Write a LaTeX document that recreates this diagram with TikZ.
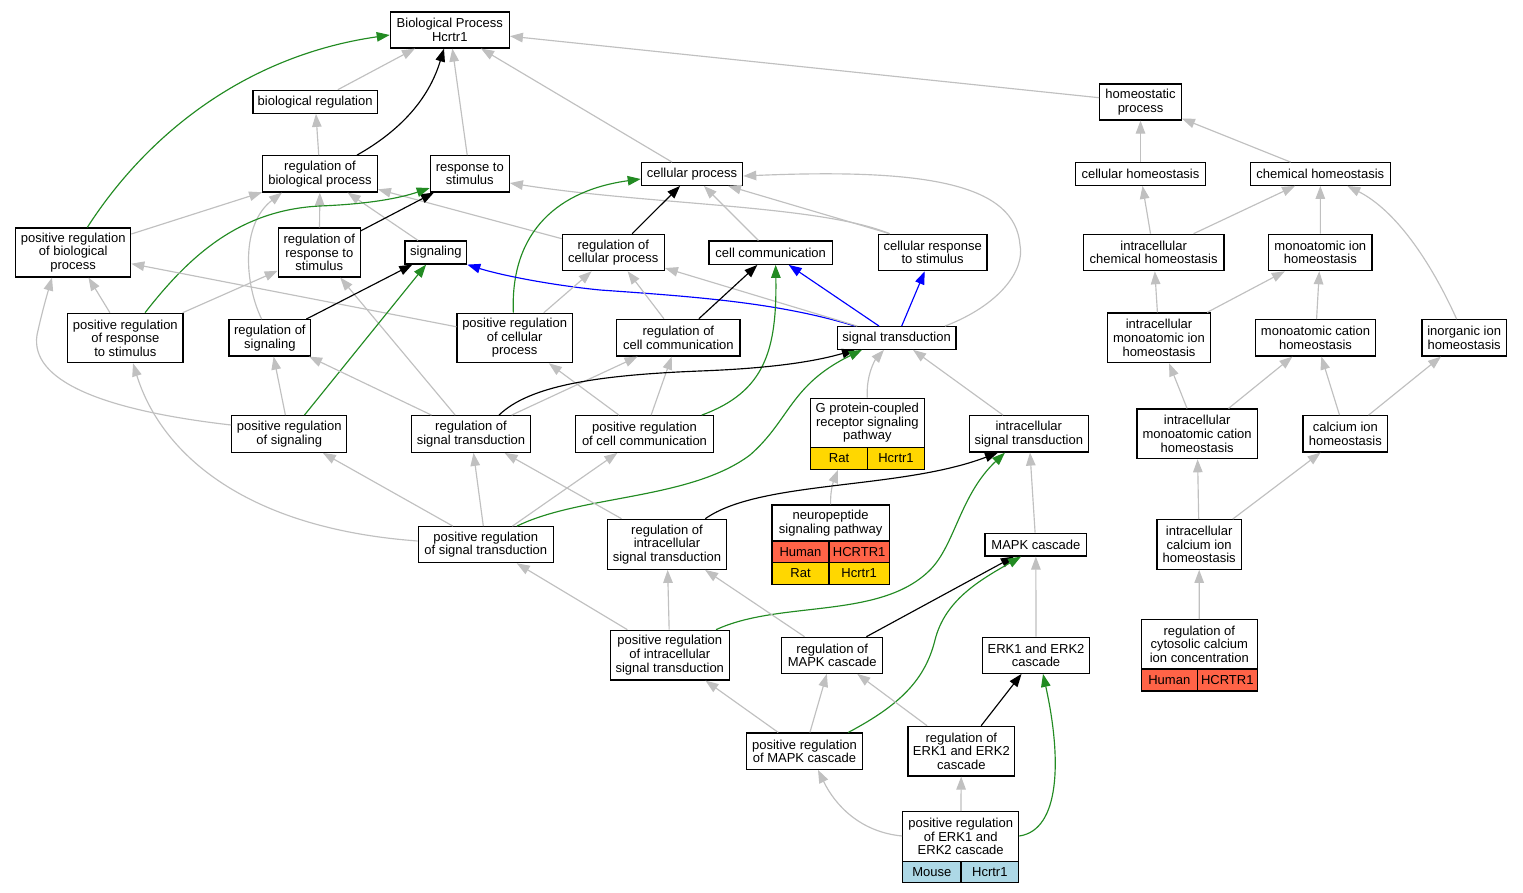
\documentclass[tikz,border=0pt]{standalone}
\usepackage{fontspec}
\setmainfont{Liberation Sans}
\usetikzlibrary{arrows.meta}
\definecolor{eg}{HTML}{C0C0C0}
\definecolor{eG}{HTML}{228B22}
\definecolor{eB}{HTML}{0000FF}
\definecolor{cHum}{HTML}{FF6347}
\definecolor{cRat}{HTML}{FFD700}
\definecolor{cMou}{HTML}{ADD8E6}
\newcommand\bx[6]{\node[box,minimum width={(#4)-(#2)},minimum height={(#5)-(#3)}] (#1) at ({((#2)+(#4))/2},{((#3)+(#5))/2}) {#6};}
\newcommand\cl[7]{\node[box,fill=#6,minimum width={(#4)-(#2)},minimum height={(#5)-(#3)}] (#1) at ({((#2)+(#4))/2},{((#3)+(#5))/2}) {#7};}
\newcommand\tx[4]{\node[lbl] (#1) at (#2,#3) {#4};}
\begin{document}
\begin{tikzpicture}[x=1pt,y=-1pt,
  box/.style={draw=black, line width=1.2pt, inner sep=0pt, align=center, font=\fontsize{13}{13.6}\selectfont},
  lbl/.style={inner sep=0pt, align=center, font=\fontsize{13}{13.6}\selectfont},
  edge/.style={line width=1.15pt, -{Triangle[length=13pt,width=9.5pt]}},
  gr/.style={edge, eg},
  bk/.style={edge, black},
  gn/.style={edge, eG},
  bl/.style={edge, eB}]
\fill[white] (0,0) rectangle (1523,893);
\useasboundingbox (0,0) rectangle (1523,893);
% nodes
\bx{bp}{390.3}{12}{509.3}{48}{Biological Process\\Hcrtr1}
\bx{breg}{253}{90.3}{377.3}{113.3}{biological regulation}
\bx{rbp}{262.7}{155.7}{377.3}{192}{regulation of\\biological process}
\bx{rts}{430.3}{155.7}{509.3}{192}{response to\\stimulus}
\bx{prbp}{15.7}{228}{130.7}{277}{positive regulation\\of biological\\process}
\bx{rrs}{278.3}{228}{360.3}{277}{regulation of\\response to\\stimulus}
\bx{sig}{405}{241}{466.7}{264}{signaling}
\bx{cp}{641.3}{162.7}{742.7}{185.3}{cellular process}
\bx{rcp}{562.3}{234.3}{664.3}{270.7}{regulation of\\cellular process}
\bx{cc}{709}{241}{832.3}{264.3}{cell communication}
\bx{crs}{878.3}{234.3}{987}{270.7}{cellular response\\to stimulus}
\bx{hp}{1099.7}{84}{1181.3}{120}{homeostatic\\process}
\bx{chom}{1075.7}{162.7}{1205.3}{185.3}{cellular homeostasis}
\bx{chem}{1250.3}{162.7}{1390.3}{185.3}{chemical homeostasis}
\bx{ich}{1083.3}{234.3}{1224}{270.7}{intracellular\\chemical homeostasis}
\bx{mih}{1268.7}{234.3}{1372}{270.7}{monoatomic ion\\homeostasis}
\bx{imih}{1107.3}{313}{1210.7}{362.7}{intracellular\\monoatomic ion\\homeostasis}
\bx{mch}{1255.3}{319.7}{1375.7}{356}{monoatomic cation\\homeostasis}
\bx{iih}{1422}{319.7}{1506.3}{356}{inorganic ion\\homeostasis}
\bx{prrs}{67.7}{313.3}{183}{362.7}{positive regulation\\of response\\to stimulus}
\bx{rsig}{229}{319.7}{310.7}{356}{regulation of\\signaling}
\bx{prcp}{457}{313.3}{572.3}{362.7}{positive regulation\\of cellular\\process}
\bx{rcc}{616.7}{319.3}{740}{356}{regulation of\\cell communication}
\bx{st}{837.3}{326.7}{956}{349.3}{signal transduction}
\bx{prs}{231.7}{415.7}{346.7}{452.3}{positive regulation\\of signaling}
\bx{rst}{411.7}{415.7}{530.3}{452.3}{regulation of\\signal transduction}
\bx{prcc}{575.7}{415.7}{713.3}{452.3}{positive regulation\\of cell communication}
\bx{gpcr}{810.3}{398.3}{924.3}{469.3}{}
\tx{gpcrT}{867.3}{423}{G protein-coupled\\receptor signaling\\pathway}
\cl{gpcrA}{810.3}{447.7}{867.7}{469.3}{cRat}{Rat}
\cl{gpcrB}{867.7}{447.7}{924.3}{469.3}{cRat}{Hcrtr1}
\bx{ist}{969.3}{415.7}{1088.3}{452}{intracellular\\signal transduction}
\bx{imch}{1137}{409}{1257.3}{458.7}{intracellular\\monoatomic cation\\homeostasis}
\bx{cih}{1303}{415.7}{1387.7}{452}{calcium ion\\homeostasis}
\bx{prst}{418.3}{526.7}{553.3}{562.7}{positive regulation\\of signal transduction}
\bx{ri}{607.3}{519.3}{726.7}{569.3}{regulation of\\intracellular\\signal transduction}
\bx{np}{772}{505}{889.3}{584.3}{}
\tx{npT}{830.65}{523}{neuropeptide\\signaling pathway}
\cl{npA}{772}{541}{829}{562.7}{cHum}{Human}
\cl{npB}{829}{541}{889.3}{562.7}{cHum}{HCRTR1}
\cl{npC}{772}{562.7}{829}{584.3}{cRat}{Rat}
\cl{npD}{829}{562.7}{889.3}{584.3}{cRat}{Hcrtr1}
\bx{mapk}{985}{533.3}{1086.7}{556}{MAPK cascade}
\bx{icah}{1157}{519.7}{1241.3}{569.3}{intracellular\\calcium ion\\homeostasis}
\bx{pri}{610.3}{630.3}{729.3}{680}{positive regulation\\of intracellular\\signal transduction}
\bx{rmapk}{781.7}{637.3}{882.7}{673.3}{regulation of\\MAPK cascade}
\bx{erk}{982.7}{637.3}{1089.3}{673.3}{ERK1 and ERK2\\cascade}
\bx{rcyt}{1141.3}{619.7}{1257.3}{691}{}
\tx{rcytT}{1199.3}{644.3}{regulation of\\cytosolic calcium\\ion concentration}
\cl{rcytA}{1141.3}{669}{1197.3}{691}{cHum}{Human}
\cl{rcytB}{1197.3}{669}{1257.3}{691}{cHum}{HCRTR1}
\bx{prm}{746.3}{733}{862.7}{769.3}{positive regulation\\of MAPK cascade}
\bx{rerk}{908}{726.3}{1014.7}{776}{regulation of\\ERK1 and ERK2\\cascade}
\bx{prerk}{902.7}{811.7}{1018.7}{882.7}{}
\tx{prerkT}{960.7}{836.7}{positive regulation\\of ERK1 and\\ERK2 cascade}
\cl{prerkA}{902.7}{861.7}{961}{882.7}{cMou}{Mouse}
\cl{prerkB}{961}{861.7}{1018.7}{882.7}{cMou}{Hcrtr1}
% edges: top region
\draw[gr] (breg) -- (bp);
\draw[gr] (rts) -- (bp);
\draw[gr] (cp) -- (bp);
\draw[gr] (hp) -- (bp);
\draw[bk] ([xshift=37pt]rbp.north) .. controls (405,128) and (430,95) .. ([xshift=-5.8pt]bp.south);
\draw[gn] ([xshift=14.1pt]prbp.north) .. controls (150,130) and (250,55) .. ([yshift=-5pt]bp.west);
\draw[gr] (rbp) -- (breg);
\draw[gr] (prbp) -- (rbp);
\draw[gr] (rrs) -- (rbp);
\draw[gr] (sig) -- (rbp);
\draw[gr] (rcp) -- (rbp);
\draw[gr] ([xshift=-8.2pt]rsig.north) .. controls (245,285) and (240,225) .. ([xshift=-38pt]rbp.south);
\draw[bk] (rrs) -- (rts);
\draw[gn] ([xshift=19.7pt]prrs.north) .. controls (190,255) and (240,210) .. (320,206) .. controls (370,204) and (400,198) .. ([yshift=-14.2pt]rts.west);
\draw[gr] ([xshift=-43pt]crs.north) .. controls (820,205) and (650,205) .. ([yshift=-9.2pt]rts.east);
\draw[gr] ([xshift=-43pt]crs.north) -- ([xshift=36pt]cp.south);
\draw[gr] (cc) -- (cp);
\draw[bk] (rcp) -- (cp);
\draw[gn] ([xshift=-1.3pt]prcp.north) .. controls (510,230) and (560,190) .. ([yshift=-5pt]cp.west);
\draw[gr] ([xshift=48.3pt]st.north) .. controls (1000,305) and (1025,270) .. (1020,245) .. controls (1015,185) and (930,168) .. ([yshift=-2pt]cp.east);
% second level
\draw[gr] (prrs) -- (prbp);
\draw[gr] (prcp) -- (prbp);
\draw[gr] ([yshift=9pt]prs.west) .. controls (100,410) and (30,380) .. (37,335) .. controls (42,312) and (47,295) .. ([xshift=-21.2pt]prbp.south);
\draw[gr] (prrs) -- (rrs);
\draw[gr] (rst) -- (rrs);
\draw[bk] (rsig) -- (sig);
\draw[gn] (prs) -- (sig);
\draw[bl] ([xshift=-41.7pt]st.north) .. controls (780,303) and (700,297) .. (600,290) .. controls (550,285) and (500,275) .. (sig.south east);
\draw[gr] (prcp) -- (rcp);
\draw[gr] (rcc) -- (rcp);
\draw[gr] (st) -- (rcp);
\draw[bk] (rcc) -- (cc);
\draw[gn] ([xshift=57.2pt]prcc.north) .. controls (765,392) and (777,350) .. ([xshift=5pt]cc.south);
\draw[bl] (st) -- (cc);
\draw[bl] (st) -- (crs);
% third level
\draw[gr] (rst) -- (rsig);
\draw[gr] (prs) -- (rsig);
\draw[gr] (prcc) -- (rcc);
\draw[gr] (rst) -- (rcc);
\draw[gr] (prcc) -- (prcp);
\draw[gr] ([yshift=3.7pt]prst.west) .. controls (240,528) and (160,450) .. ([xshift=7.7pt]prrs.south);
\draw[bk] ([xshift=28pt]rst.north) .. controls (530,385) and (600,375) .. (700,371) .. controls (780,368) and (820,360) .. ([xshift=-41.7pt]st.south);
\draw[gn] ([xshift=31.2pt]prst.north) .. controls (580,495) and (690,500) .. (750,455) .. controls (790,420) and (790,385) .. ([xshift=-34.7pt]st.south);
\draw[gr] (gpcr.north) .. controls (866,375) and (875,360) .. ([xshift=-12.7pt]st.south);
\draw[gr] (ist) -- (st);
\draw[gr] (np.north) .. controls (830,490) and (834,480) .. ([xshift=-29.3pt]gpcr.south);
% fourth level
\draw[gr] (prst) -- (prs);
\draw[gr] (prst) -- (rst);
\draw[gr] (prst) -- (prcc);
\draw[gr] (ri) -- (rst);
\draw[bk] ([xshift=38.3pt]ri.north) .. controls (760,480) and (900,490) .. ([xshift=-30.8pt]ist.south);
\draw[gn] ([xshift=46.2pt]pri.north) .. controls (780,600) and (880,620) .. (930,570) .. controls (955,545) and (960,495) .. ([xshift=-23.8pt]ist.south);
\draw[gr] (mapk) -- (ist);
\draw[gr] (pri) -- (prst);
\draw[gr] (pri) -- (ri);
\draw[gr] (rmapk) -- (ri);
\draw[gr] (prm) -- (pri);
\draw[bk] (rmapk) -- (mapk);
\draw[gn] ([xshift=43.8pt]prm.north) .. controls (900,705) and (925,680) .. (935,640) .. controls (945,600) and (980,580) .. ([xshift=-14.8pt]mapk.south);
\draw[gr] (erk) -- (mapk);
\draw[gr] (prm) -- (rmapk);
\draw[gr] (rerk) -- (rmapk);
\draw[bk] (rerk) -- (erk);
\draw[gr] (prerk) -- (rerk);
\draw[gr] ([yshift=11.2pt]prerk.west) .. controls (860,832) and (835,805) .. ([xshift=13.5pt]prm.south);
\draw[gn] ([yshift=11.2pt]prerk.east) .. controls (1060,830) and (1062,760) .. ([xshift=7pt]erk.south);
% homeostasis
\draw[gr] (chom) -- (hp);
\draw[gr] (chem) -- (hp);
\draw[gr] (ich) -- (chom);
\draw[gr] (ich) -- (chem);
\draw[gr] (mih) -- (chem);
\draw[gr] ([xshift=-7.5pt]iih.north) .. controls (1430,260) and (1395,210) .. ([xshift=27pt]chem.south);
\draw[gr] (imih) -- (ich);
\draw[gr] (imih) -- (mih);
\draw[gr] (mch) -- (mih);
\draw[gr] (imch) -- (imih);
\draw[gr] (imch) -- (mch);
\draw[gr] (cih) -- (mch);
\draw[gr] (cih) -- (iih);
\draw[gr] (icah) -- (imch);
\draw[gr] (icah) -- (cih);
\draw[gr] (rcyt) -- (icah);
\end{tikzpicture}
\end{document}
